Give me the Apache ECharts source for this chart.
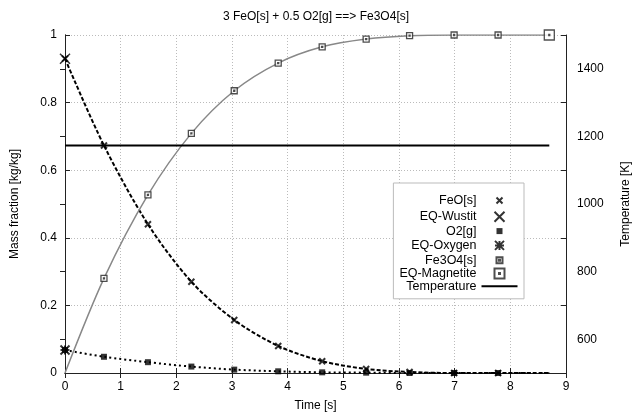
<!DOCTYPE html>
<html>
<head>
<meta charset="utf-8">
<script src="https://cdn.jsdelivr.net/npm/echarts@6/dist/echarts.min.js"></script>
<style>
  html, body { margin: 0; padding: 0; background: #fff; }
  #chart { width: 632px; height: 419px; }
</style>
</head>
<body>
<div id="chart"></div>
<script>
// ---- data ----
const time = [0, 0.70, 1.49, 2.27, 3.04, 3.83, 4.62, 5.41, 6.19, 6.99, 7.78];
const endTime = 8.7;
const feo = [0.93, 0.673, 0.44, 0.27, 0.157, 0.08, 0.035, 0.012, 0.003, 0, 0];
const feoEnd = 0;
const o2 = [0.068, 0.048, 0.032, 0.019, 0.010, 0.005, 0.002, 0.001, 0, 0, 0];
const o2End = 0;
const fe3o4 = [0, 0.28, 0.527, 0.709, 0.835, 0.917, 0.965, 0.988, 0.998, 1.0, 1.0];
const fe3o4End = 1.0;
const eqWustit = [[0, 0.93]];
const eqOxygen = [[0, 0.068]];
const eqMagnetite = [[8.7, 1.0]];
const tempTime = [0, 8.7];
const tempValue = [1173, 1173];
const tempTicks = [600, 800, 1000, 1200, 1400];

// ---- helpers ----
const pairs = (xs, ys) => xs.map((x, i) => [x, ys[i]]);
const lineTime = time.concat([endTime]);

const FONT = 'Liberation Sans, Arial, Helvetica, sans-serif';
const SMALL_X = 'path://M0,0L6,6M6,0L0,6';
const BIG_X = 'path://M0,0L10,10M10,0L0,10';
const STAR = 'path://M0,0L9,9M9,0L0,9M4.5,0L4.5,9M0,4.5L9,4.5';
const BOX_S = 'path://M0,0L6,0L6,6L0,6ZM2.5,2.5L3.5,2.5L3.5,3.5L2.5,3.5Z';
const BOX_B = 'path://M0,0L10,0L10,10L0,10ZM4.5,4.5L5.5,4.5L5.5,5.5L4.5,5.5Z';

const L_SMALL_X = 'path://M0,0M36,12M15,3L21,9M21,3L15,9';
const L_BIG_X = 'path://M0,0M36,12M13,1L23,11M23,1L13,11';
const L_SQ = 'path://M0,0M36,12M15,3L21,3L21,9L15,9Z';
const L_STAR = 'path://M0,0M36,12M13.5,1.5L22.5,10.5M22.5,1.5L13.5,10.5M18,1.5L18,10.5M13.5,6L22.5,6';
const L_BOX_S = 'path://M0,0M36,12M15,3L21,3L21,9L15,9ZM17.5,5.5L18.5,5.5L18.5,6.5L17.5,6.5Z';
const L_BOX_B = 'path://M0,0M36,12M13,1L23,1L23,11L13,11ZM17.5,5.5L18.5,5.5L18.5,6.5L17.5,6.5Z';
const L_LINE = 'path://M0,0M36,12M0,5L36,5L36,7L0,7Z';

const axisLineStyle = { color: '#222', width: 1 };
const tickStyle = { show: true, inside: true, length: 5, lineStyle: { color: '#222', width: 1 } };
const labelStyle = { color: '#000', fontSize: 12, fontFamily: FONT };

const chart = echarts.init(document.getElementById('chart'), null, { renderer: 'canvas' });

chart.setOption({
  animation: false,
  backgroundColor: '#fff',
  title: {
    text: '3 FeO[s] + 0.5 O2[g] ==> Fe3O4[s]',
    left: 'center',
    top: 6,
    textStyle: { color: '#000', fontSize: 12, fontWeight: 'normal', fontFamily: FONT }
  },
  grid: { left: 65, right: 66, top: 35, bottom: 46, containLabel: false, outerBoundsMode: 'none' },
  legend: {
    orient: 'vertical',
    right: 108,
    top: 183,
    align: 'right',
    itemWidth: 36,
    itemHeight: 12,
    itemGap: -0.7,
    padding: [9, 4, 6, 6],
    backgroundColor: '#fff',
    borderColor: '#bbb',
    borderWidth: 1,
    borderRadius: 0,
    selectedMode: false,
    textStyle: { color: '#000', fontSize: 12.5, lineHeight: 12, fontFamily: FONT },
    data: [
      { name: 'FeO[s]', icon: L_SMALL_X },
      { name: 'EQ-Wustit', icon: L_BIG_X },
      { name: 'O2[g]', icon: L_SQ },
      { name: 'EQ-Oxygen', icon: L_STAR },
      { name: 'Fe3O4[s]', icon: L_BOX_S },
      { name: 'EQ-Magnetite', icon: L_BOX_B },
      { name: 'Temperature', icon: L_LINE }
    ]
  },
  xAxis: [
    {
      type: 'value', min: 0, max: 9, interval: 1, position: 'bottom',
      name: 'Time [s]', nameLocation: 'middle', nameGap: 27,
      nameTextStyle: { color: '#000', fontSize: 12, fontFamily: FONT },
      axisLine: { show: true, lineStyle: axisLineStyle },
      axisTick: tickStyle,
      axisLabel: Object.assign({ margin: 8 }, labelStyle),
      splitLine: { show: true, lineStyle: { color: '#bbb', type: [1, 2], width: 1 } }
    },
    {
      type: 'value', min: 0, max: 9, interval: 1, position: 'top',
      axisLine: { show: true, lineStyle: axisLineStyle },
      axisTick: tickStyle,
      axisLabel: { show: false },
      splitLine: { show: false }
    }
  ],
  yAxis: [
    {
      type: 'value', min: 0, max: 1, interval: 0.2, position: 'left',
      name: 'Mass fraction [kg/kg]', nameLocation: 'middle', nameGap: 44,
      nameTextStyle: { color: '#000', fontSize: 12, fontFamily: FONT },
      axisLine: { show: true, lineStyle: axisLineStyle },
      axisTick: tickStyle,
      axisLabel: Object.assign({ margin: 8 }, labelStyle),
      splitLine: { show: true, lineStyle: { color: '#bbb', type: [1, 2], width: 1 } }
    },
    {
      type: 'value', min: 500, max: 1500, position: 'right',
      name: 'Temperature [K]', nameLocation: 'middle', nameGap: 54,
      nameTextStyle: { color: '#000', fontSize: 12, fontFamily: FONT },
      axisLine: { show: true, lineStyle: axisLineStyle },
      axisTick: Object.assign({ customValues: tempTicks }, tickStyle),
      axisLabel: Object.assign({ margin: 11, customValues: tempTicks, formatter: v => String(v) }, labelStyle),
      splitLine: { show: false }
    },
    {
      type: 'value', min: 0, max: 1, interval: 0.2, position: 'right',
      axisLine: { show: true, lineStyle: axisLineStyle },
      axisTick: tickStyle,
      axisLabel: { show: false },
      splitLine: { show: false }
    }
  ],
  series: [
    {
      type: 'line', name: 'FeO-line', data: pairs(lineTime, feo.concat([feoEnd])),
      smooth: 0.3, symbol: 'none', z: 2,
      lineStyle: { color: '#000', width: 2, type: [4, 2] }
    },
    {
      type: 'line', name: 'O2-line', data: pairs(lineTime, o2.concat([o2End])),
      smooth: 0.3, symbol: 'none', z: 2,
      lineStyle: { color: '#000', width: 2, type: [2, 3] }
    },
    {
      type: 'line', name: 'Fe3O4-line', data: pairs(lineTime, fe3o4.concat([fe3o4End])),
      smooth: 0.3, symbol: 'none', z: 2,
      lineStyle: { color: '#888', width: 1.5 }
    },
    {
      type: 'line', name: 'Temperature', yAxisIndex: 1, data: pairs(tempTime, tempValue),
      symbol: 'none', z: 3,
      itemStyle: { color: '#000' },
      lineStyle: { color: '#000', width: 2 }
    },
    {
      type: 'scatter', name: 'FeO[s]', data: pairs(time, feo), z: 5,
      symbol: SMALL_X, symbolSize: 6,
      itemStyle: { color: 'none', borderColor: '#000', borderWidth: 2 }
    },
    {
      type: 'scatter', name: 'EQ-Wustit', data: eqWustit, z: 5,
      symbol: BIG_X, symbolSize: 10,
      itemStyle: { color: 'none', borderColor: '#000', borderWidth: 1.5 }
    },
    {
      type: 'scatter', name: 'O2[g]', data: pairs(time, o2), z: 5,
      symbol: 'rect', symbolSize: 6,
      itemStyle: { color: '#000', borderColor: '#000', borderWidth: 0 }
    },
    {
      type: 'scatter', name: 'EQ-Oxygen', data: eqOxygen, z: 5,
      symbol: STAR, symbolSize: 9,
      itemStyle: { color: 'none', borderColor: '#000', borderWidth: 2 }
    },
    {
      type: 'scatter', name: 'Fe3O4[s]', data: pairs(time.slice(1), fe3o4.slice(1)), z: 5,
      symbol: BOX_S, symbolSize: 6,
      itemStyle: { color: '#fff', borderColor: '#222', borderWidth: 1.3 }
    },
    {
      type: 'scatter', name: 'EQ-Magnetite', data: eqMagnetite, z: 5,
      symbol: BOX_B, symbolSize: 10,
      itemStyle: { color: '#fff', borderColor: '#222', borderWidth: 1.3 }
    }
  ]
});
</script>
</body>
</html>
